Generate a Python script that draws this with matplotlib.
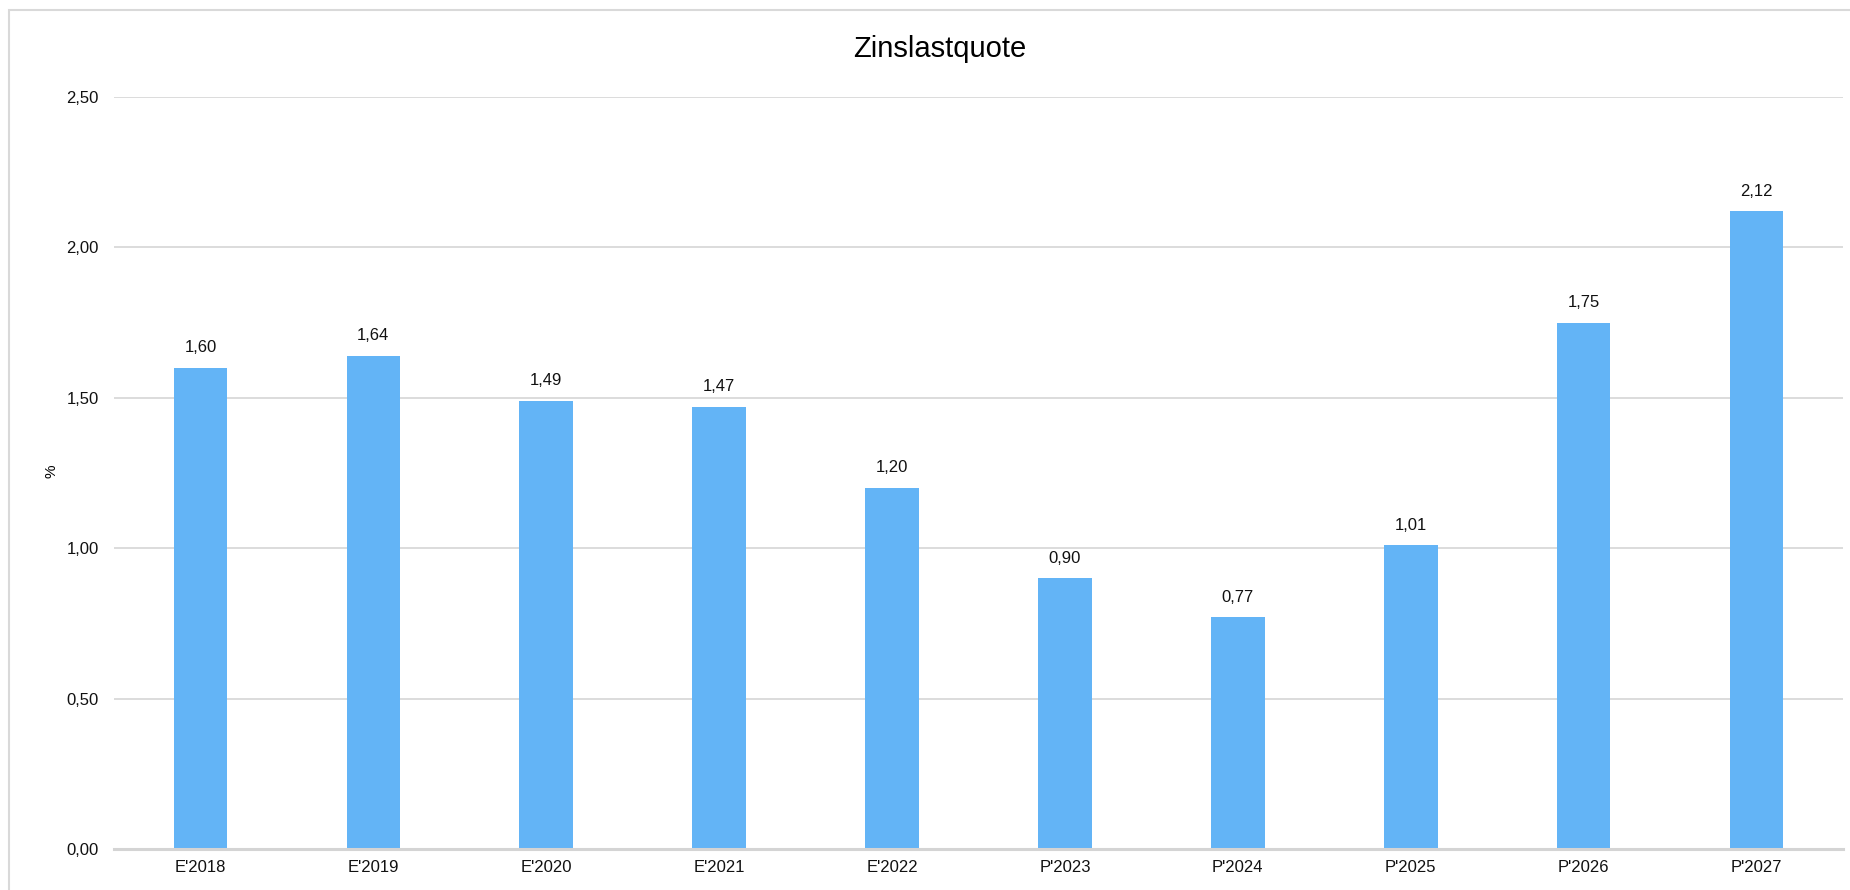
import matplotlib
matplotlib.use("Agg")
import matplotlib.pyplot as plt
from matplotlib.patches import Rectangle

# data
categories = ["E'2018", "E'2019", "E'2020", "E'2021", "E'2022",
              "P'2023", "P'2024", "P'2025", "P'2026", "P'2027"]
values = [1.60, 1.64, 1.49, 1.47, 1.20, 0.90, 0.77, 1.01, 1.75, 2.12]
yticks = [0.0, 0.5, 1.0, 1.5, 2.0, 2.5]

plt.rcParams["font.family"] = ["Liberation Sans", "DejaVu Sans"]

fig = plt.figure(figsize=(18.5, 8.9), dpi=100)
ax = fig.add_axes([0.0616, 0.0461, 0.9346, 0.845])

x = range(len(categories))
ax.bar(x, values, width=0.31, color="#63b4f6", zorder=3)
for i, v in zip(x, values):
    ax.annotate(f"{v:.2f}".replace(".", ","), (i, v), xytext=(0, 9),
                textcoords="offset points", ha="center", va="bottom",
                fontsize=12, color="#111111")

ax.set_xlim(-0.5, len(categories) - 0.5)
ax.set_ylim(0, 2.5)
ax.set_yticks(yticks)
ax.set_yticklabels([f"{t:.2f}".replace(".", ",") for t in yticks])
ax.set_xticks(list(x))
ax.set_xticklabels(categories)
ax.tick_params(axis="both", length=0, labelsize=12, colors="#111111")
ax.tick_params(axis="y", pad=11)
ax.tick_params(axis="x", pad=8)
ax.grid(True, axis="y", color="#d9d9d9", lw=1.3, zorder=0)
for s in ("top", "right", "left"):
    ax.spines[s].set_visible(False)
ax.spines["bottom"].set_color("#d4d4d4")
ax.spines["bottom"].set_linewidth(2.2)
ax.spines["bottom"].set_zorder(4)

fig.text(0.028, 0.47, "%", rotation=90, fontsize=11, ha="center", va="center")
fig.text(0.508, 0.945, "Zinslastquote", fontsize=21, ha="center", va="center")

# light outer frame
fig.patches.append(Rectangle((9 / 1850, -0.05), 1.1, 1 - 10 / 890 + 0.05,
                             transform=fig.transFigure, fill=False,
                             edgecolor="#d9d9d9", lw=1.5))

fig.savefig("out.png", dpi=100)
